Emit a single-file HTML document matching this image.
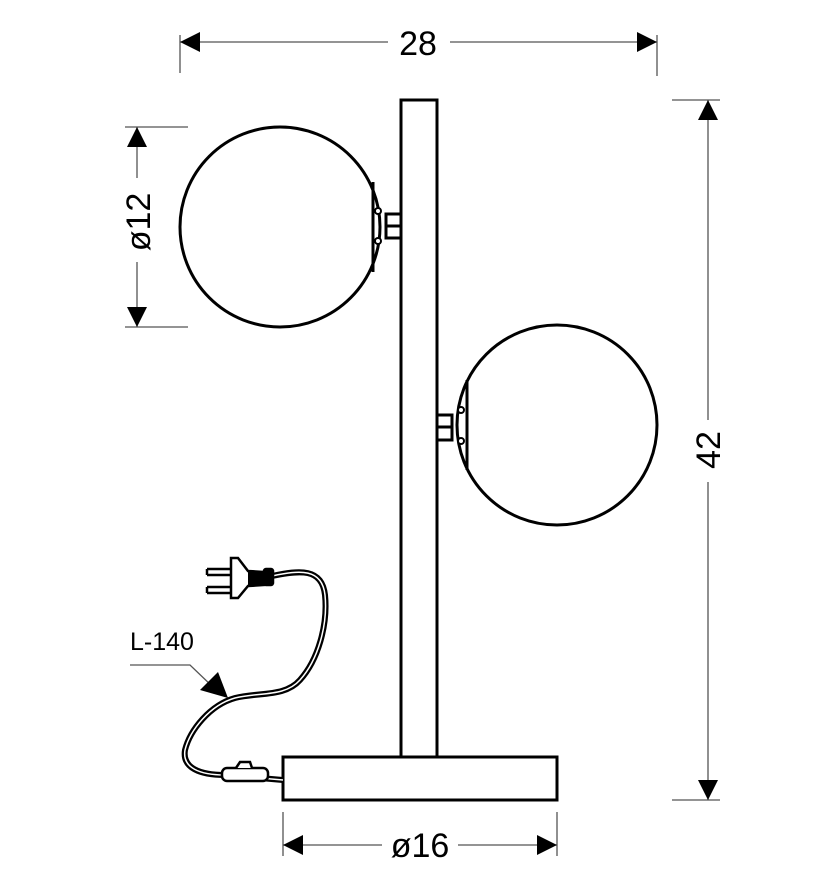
<!DOCTYPE html>
<html><head><meta charset="utf-8"><style>
html,body{margin:0;padding:0;background:#fff;}
svg{display:block;}
text{font-family:"Liberation Sans",sans-serif;fill:#000;}
</style></head><body>
<svg width="828" height="886" viewBox="0 0 828 886" xmlns="http://www.w3.org/2000/svg">
<g stroke="#555" stroke-width="1.3" fill="none">
  <line x1="180" y1="42" x2="388" y2="42"/><line x1="450" y1="42" x2="657" y2="42"/>
  <line x1="180" y1="35" x2="180" y2="73"/><line x1="657" y1="35" x2="657" y2="76"/>
  <line x1="708" y1="100" x2="708" y2="420"/><line x1="708" y1="482" x2="708" y2="800"/>
  <line x1="672" y1="100" x2="720" y2="100"/><line x1="672" y1="800" x2="720" y2="800"/>
  <line x1="137" y1="127" x2="137" y2="178"/><line x1="137" y1="262" x2="137" y2="327"/>
  <line x1="125" y1="127" x2="188" y2="127"/><line x1="125" y1="327" x2="188" y2="327"/>
  <line x1="283" y1="845" x2="382" y2="845"/><line x1="458" y1="845" x2="557" y2="845"/>
  <line x1="283" y1="812" x2="283" y2="856"/><line x1="557" y1="812" x2="557" y2="856"/>
  <polyline points="130,665 190,665 214,688"/>
</g>
<g fill="#000">
  <polygon points="180,42 200,32 200,52"/><polygon points="657,42 637,32 637,52"/>
  <polygon points="708,100 698,120 718,120"/><polygon points="708,800 698,780 718,780"/>
  <polygon points="137,127 127,147 147,147"/><polygon points="137,327 127,307 147,307"/>
  <polygon points="283,845 303,835 303,855"/><polygon points="557,845 537,835 537,855"/>
  <polygon points="228,698 200,690 218,672"/>
</g>
<text x="418" y="55" font-size="34" text-anchor="middle">28</text>
<text x="420" y="857" font-size="34" text-anchor="middle">ø16</text>
<text transform="translate(720,450) rotate(-90)" font-size="34" text-anchor="middle">42</text>
<text transform="translate(150,222) rotate(-90)" font-size="34" text-anchor="middle">ø12</text>
<text x="130" y="650" font-size="25">L-140</text>

<g stroke="#000" stroke-width="3" fill="#fff">
  <rect x="401" y="100" width="36" height="657"/>
  <rect x="283" y="757" width="274" height="43"/>
  <circle cx="280" cy="227" r="100"/>
  <circle cx="557" cy="425" r="100"/>
  <rect x="386" y="214" width="15" height="24"/>
  <line x1="386" y1="226" x2="401" y2="226"/>
  <rect x="437" y="415" width="15" height="25"/>
  <line x1="437" y1="427" x2="452" y2="427"/>
  <line x1="373" y1="182" x2="373" y2="272"/>
  <line x1="467" y1="380" x2="467" y2="470"/>
</g>
<g stroke="#000" stroke-width="2" fill="#fff">
  <circle cx="378" cy="211" r="3"/><circle cx="378" cy="241" r="3"/>
  <circle cx="461" cy="410" r="3"/><circle cx="461" cy="441" r="3"/>
</g>
<path d="M272,576 C300,570 322,568 325,595 C328,625 318,660 300,680 C285,697 260,692 235,698 C210,705 190,730 185,750 C182,768 200,775 225,775 L283,780" stroke="#000" stroke-width="6" fill="none"/>
<path d="M272,576 C300,570 322,568 325,595 C328,625 318,660 300,680 C285,697 260,692 235,698 C210,705 190,730 185,750 C182,768 200,775 225,775 L283,780" stroke="#fff" stroke-width="1.5" fill="none"/>
<g stroke="#000" stroke-width="2.5" fill="#fff">
  <rect x="222" y="768" width="46" height="13" rx="5"/>
  <path d="M236,768 L240,762 L250,762 L252,768"/>
  <line x1="207" y1="569" x2="232" y2="569"/><line x1="207" y1="575" x2="232" y2="575"/>
  <line x1="207" y1="587" x2="232" y2="587"/><line x1="207" y1="593" x2="232" y2="593"/>
  <line x1="207" y1="569" x2="207" y2="575"/><line x1="207" y1="587" x2="207" y2="593"/>
  <path d="M231,558 L238,558 L248,571 L264,572 L264,585 L248,586 L238,598 L231,598 Z"/>
  <rect x="264" y="569" width="9" height="16" rx="2" fill="#000"/>
</g>
<rect x="248" y="572" width="16" height="13" fill="#000"/>
</svg>
</body></html>
